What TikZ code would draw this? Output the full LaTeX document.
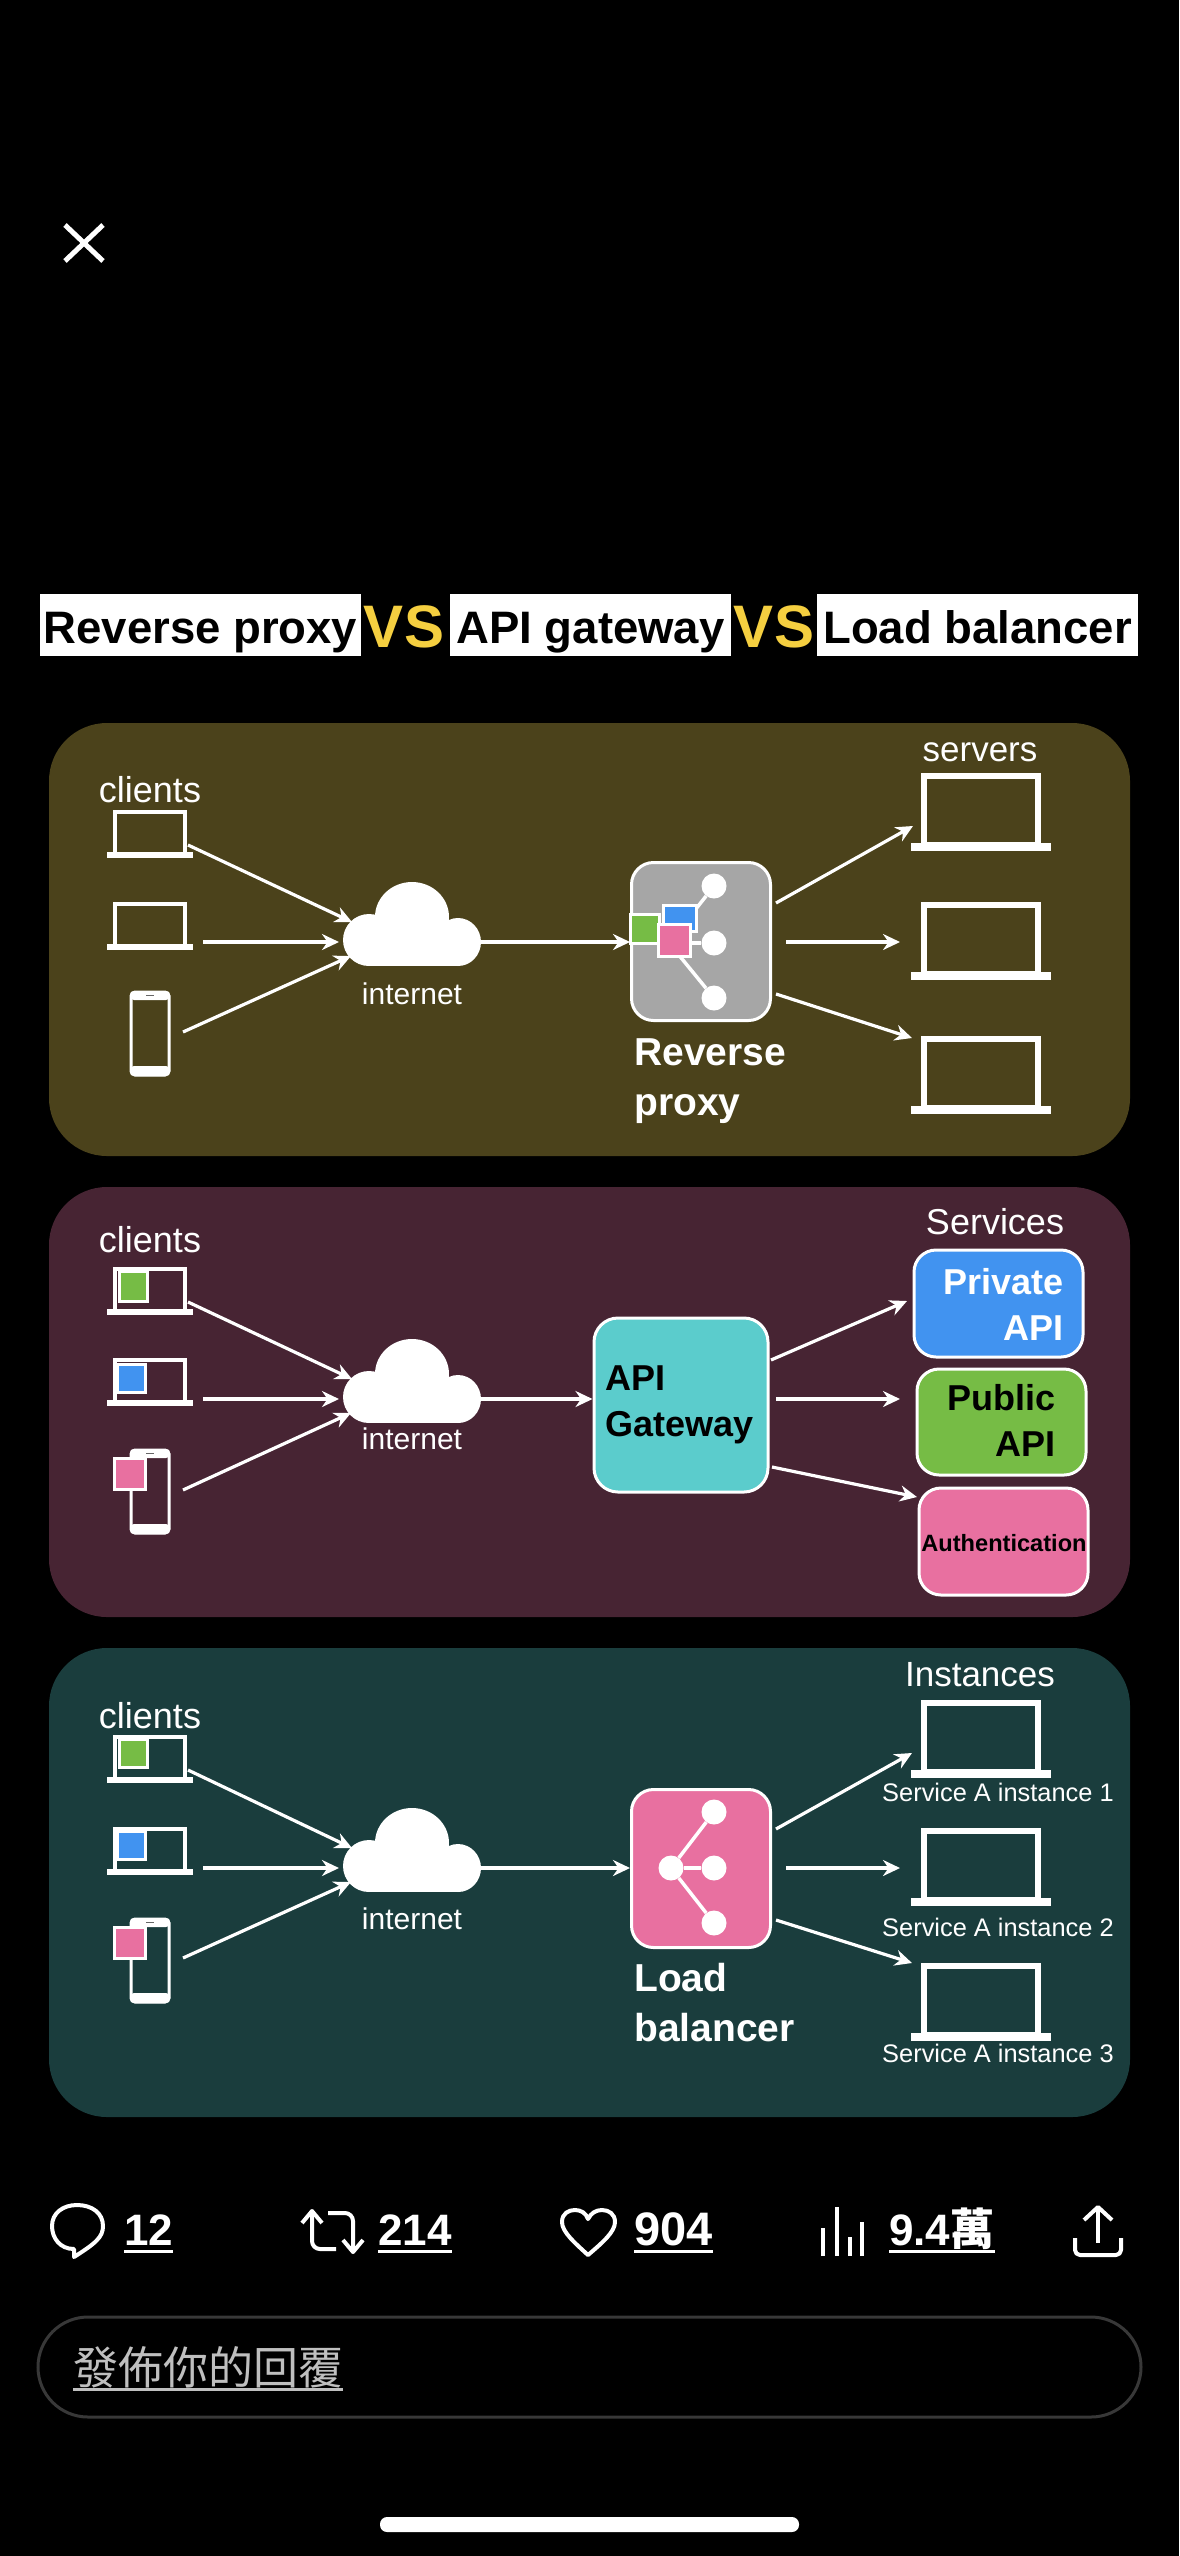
\documentclass[tikz,border=0pt]{standalone}
\usepackage{fontspec}
\setmainfont{Liberation Sans}
\newfontfamily\cjkfont{Noto Sans CJK TC}
\usetikzlibrary{arrows.meta,positioning,calc}

\definecolor{panelolive}{HTML}{4B421B}
\definecolor{panelplum}{HTML}{472433}
\definecolor{panelteal}{HTML}{1A3D3D}
\definecolor{appgreen}{HTML}{76BC45}
\definecolor{appblue}{HTML}{4193F0}
\definecolor{apppink}{HTML}{E870A0}
\definecolor{appcyan}{HTML}{5BCCCC}
\definecolor{proxygray}{HTML}{A6A6A6}
\definecolor{vsyellow}{HTML}{F5CF40}

\begin{document}
\begin{tikzpicture}[
    x=1pt, y=-1pt,
    panel/.style={rectangle, rounded corners=58pt, minimum width=1081pt, inner sep=0pt},
    titlebox/.style={rectangle, fill=white, inner sep=0pt, minimum height=62pt, text=black,
        text height=40pt, text depth=4pt, font=\bfseries\fontsize{45.5}{50}\selectfont},
    vslabel/.style={text=vsyellow, inner sep=0pt, font=\bfseries\fontsize{60}{62}\selectfont},
    plain/.style={text=white, inner sep=0pt, font=\fontsize{#1}{#1}\selectfont},
    heading/.style={text=white, inner sep=0pt, align=left, font=\bfseries\fontsize{39}{50}\selectfont},
    box/.style={rectangle, draw=white, line width=3pt, rounded corners=22pt, inner sep=0pt},
    apptext/.style={inner sep=0pt, align=right, font=\bfseries\fontsize{36}{46}\selectfont},
    inset/.style={rectangle, draw=white, line width=3pt, inner sep=0pt},
    leaf/.style={circle, fill=white, minimum size=25pt, inner sep=0pt},
    treeline/.style={draw=white, line width=3.5pt},
    arrow/.style={-{Stealth[length=17pt,width=16pt]}, white, line width=3.2pt},
    icon/.style={draw=white, line width=4pt, line join=round},
    count/.style={text=white, anchor=base west, inner sep=0pt, font=\bfseries\fontsize{44}{46}\selectfont},
    ulbar/.style={draw=white, line width=3pt},
    clientlaptop/.pic={
        \draw[white, line width=4pt] (-35,2) rectangle (35,44);
        \fill[white] (-43,42) rectangle (43,48);
    },
    serverlaptop/.pic={
        \draw[white, line width=6pt] (-57,3) rectangle (57,72);
        \fill[white] (-70,70) rectangle (70,78);
    },
    phone/.pic={
        \fill[white, rounded corners=4pt] (-20,0) rectangle (20,9);
        \fill[white, rounded corners=4pt] (-20,75) rectangle (20,85);
        \draw[white, line width=3pt, rounded corners=4pt] (-19,1) rectangle (19,84);
        \draw[black!60, line width=1.5pt] (-4,4.5) -- (4,4.5);
    },
    cloud/.pic={
        \fill[white] (69,35) ellipse [x radius=37, y radius=35];
        \fill[white] (26,58) ellipse [x radius=26, y radius=26];
        \fill[white] (115,60) ellipse [x radius=23, y radius=24];
        \fill[white] (26,45) rectangle (115,84);
        \coordinate (-ina) at (9,40);
        \coordinate (-inb) at (-4,60);
        \coordinate (-inc) at (8,74);
        \coordinate (-out) at (138,60);
    }
]

\useasboundingbox (0,0) rectangle (1179,2556);
\fill[black] (0,0) rectangle (1179,2556);

% Close button
\draw[icon, line width=5pt] (65,225) -- (103,261);
\draw[icon, line width=5pt] (103,225) -- (65,261);

% Title
\node[titlebox, minimum width=321pt] (titleA) at (200.5,625) {Reverse proxy};
\node[vslabel] (vsA) at (404,627) {VS};
\node[titlebox, minimum width=281pt] (titleB) at (590.5,625) {API gateway};
\node[vslabel] (vsB) at (774,627) {VS};
\node[titlebox, minimum width=321pt] (titleC) at (977.5,625) {Load balancer};

% Panels
\node[panel, fill=panelolive, minimum height=433pt] (panelA) at (589.5,939.5) {};
\node[panel, fill=panelplum, minimum height=430pt] (panelB) at (589.5,1402) {};
\node[panel, fill=panelteal, minimum height=469pt] (panelC) at (589.5,1882.5) {};

% Reverse proxy: clients
\node[plain=36] (clientsA) at (150,790) {clients};
\pic (caa) at (150,810) {clientlaptop};
\pic (cab) at (150,902) {clientlaptop};
\pic (cac) at (150,991) {phone};
\coordinate (caaOut) at (188,845);
\coordinate (cabOut) at (203,942);
\coordinate (cacOut) at (183,1032);

% Reverse proxy: internet
\pic (cloudA) at (343,882) {cloud};
\node[plain=30] (netA) at (412,994) {internet};

% Reverse proxy: proxy box
\node[box, fill=proxygray, minimum width=139pt, minimum height=158pt] (proxy) at (701,941.5) {};
\node[leaf] (proxyRoot) at (669,943) {};
\node[leaf] (proxyTop) at (714,886) {};
\node[leaf] (proxyMid) at (714,943) {};
\node[leaf] (proxyLow) at (714,998) {};
\draw[treeline] (proxyRoot) -- (proxyTop);
\draw[treeline] (proxyRoot) -- (proxyMid);
\draw[treeline] (proxyRoot) -- (proxyLow);
\node[inset, fill=appgreen, minimum width=29pt, minimum height=29pt] (proxyGreen) at (645,929) {};
\node[inset, fill=appblue, minimum width=33pt, minimum height=26pt] (proxyBlue) at (680,918) {};
\node[inset, fill=apppink, minimum width=32pt, minimum height=32pt] (proxyPink) at (674,940) {};
\node[heading, anchor=west] (proxyName) at (634,1081) {Reverse\\proxy};

% Reverse proxy: servers
\node[plain=35] (serversA) at (980,752) {servers};
\pic (saa) at (981,773) {serverlaptop};
\pic (sab) at (981,902) {serverlaptop};
\pic (sac) at (981,1036) {serverlaptop};
\coordinate (proxyOutA) at (776,903);
\coordinate (proxyOutB) at (786,942);
\coordinate (proxyOutC) at (776,994);
\coordinate (saaIn) at (913,826);
\coordinate (sabIn) at (900,942);
\coordinate (sacIn) at (912,1038);

% Reverse proxy: arrows
\draw[arrow] (caaOut) -- (cloudA-ina);
\draw[arrow] (cabOut) -- (cloudA-inb);
\draw[arrow] (cacOut) -- (cloudA-inc);
\draw[arrow] (cloudA-out) -- (proxy.west |- cloudA-out);
\draw[arrow] (proxyOutA) -- (saaIn);
\draw[arrow] (proxyOutB) -- (sabIn);
\draw[arrow] (proxyOutC) -- (sacIn);

% API gateway: clients
\node[plain=36] (clientsB) at (150,1240) {clients};
\pic (cba) at (150,1267) {clientlaptop};
\pic (cbb) at (150,1358) {clientlaptop};
\pic (cbc) at (150,1449) {phone};
\node[inset, fill=appgreen, minimum width=28pt, minimum height=30pt] (cbaApp) at (133,1286) {};
\node[inset, fill=appblue, minimum width=28pt, minimum height=28pt] (cbbApp) at (131,1378) {};
\node[inset, fill=apppink, minimum width=31pt, minimum height=31pt] (cbcApp) at (130,1474) {};
\coordinate (cbaOut) at (188,1302);
\coordinate (cbbOut) at (203,1399);
\coordinate (cbcOut) at (183,1490);

% API gateway: internet
\pic (cloudB) at (343,1339) {cloud};
\node[plain=30] (netB) at (412,1439) {internet};

% API gateway: gateway box
\node[box, fill=appcyan, minimum width=174pt, minimum height=174pt,
    rounded corners=24pt] (gateway) at (681,1405) {};
\node[apptext, align=left, anchor=west, text=black] (gatewayName) at (605,1405) {API\\Gateway};

% API gateway: services
\node[plain=36] (services) at (995,1222) {Services};
\node[box, fill=appblue, minimum width=169pt, minimum height=107pt] (privateApi) at (998.5,1303.5) {};
\node[apptext, text=white, anchor=east] (privateText) at (1064,1304) {Private\\API};
\node[box, fill=appgreen, minimum width=169pt, minimum height=106pt] (publicApi) at (1001.5,1422) {};
\node[apptext, text=black, anchor=east] (publicText) at (1056,1420) {Public\\API};
\node[box, fill=apppink, minimum width=169pt, minimum height=107pt] (authBox) at (1003.5,1541.5) {};
\node[inner sep=0pt, text=black, font=\bfseries\fontsize{23.6}{25}\selectfont] (authText) at (1004,1543) {Authentication};
\coordinate (gatewayOutA) at (771,1360);
\coordinate (gatewayOutB) at (776,1399);
\coordinate (gatewayOutC) at (772,1467);
\coordinate (privateIn) at (907,1301);
\coordinate (publicIn) at (900,1399);
\coordinate (authIn) at (917,1497);

% API gateway: arrows
\draw[arrow] (cbaOut) -- (cloudB-ina);
\draw[arrow] (cbbOut) -- (cloudB-inb);
\draw[arrow] (cbcOut) -- (cloudB-inc);
\draw[arrow] (cloudB-out) -- (gateway.west |- cloudB-out);
\draw[arrow] (gatewayOutA) -- (privateIn);
\draw[arrow] (gatewayOutB) -- (publicIn);
\draw[arrow] (gatewayOutC) -- (authIn);

% Load balancer: clients
\node[plain=36] (clientsC) at (150,1716) {clients};
\pic (cca) at (150,1735) {clientlaptop};
\pic (ccb) at (150,1827) {clientlaptop};
\pic (ccc) at (150,1918) {phone};
\node[inset, fill=appgreen, minimum width=28pt, minimum height=28pt] (ccaApp) at (133,1753) {};
\node[inset, fill=appblue, minimum width=28pt, minimum height=28pt] (ccbApp) at (131,1845) {};
\node[inset, fill=apppink, minimum width=31pt, minimum height=31pt] (cccApp) at (130,1943) {};
\coordinate (ccaOut) at (188,1770);
\coordinate (ccbOut) at (203,1868);
\coordinate (cccOut) at (183,1958);

% Load balancer: internet
\pic (cloudC) at (343,1808) {cloud};
\node[plain=30] (netC) at (412,1919) {internet};

% Load balancer: balancer box
\node[box, fill=apppink, minimum width=139pt, minimum height=158pt] (balancer) at (701,1868.5) {};
\node[leaf] (lbRoot) at (671,1868) {};
\node[leaf] (lbTop) at (714,1812) {};
\node[leaf] (lbMid) at (714,1868) {};
\node[leaf] (lbLow) at (714,1923) {};
\draw[treeline] (lbRoot) -- (lbTop);
\draw[treeline] (lbRoot) -- (lbMid);
\draw[treeline] (lbRoot) -- (lbLow);
\node[heading, anchor=west] (lbName) at (634,2003) {Load\\balancer};

% Load balancer: instances
\node[plain=35] (instances) at (980,1675) {Instances};
\pic (sca) at (981,1700) {serverlaptop};
\pic (scb) at (981,1828) {serverlaptop};
\pic (scc) at (981,1963) {serverlaptop};
\node[plain=25.4] (instanceA) at (998,1792) {Service A instance 1};
\node[plain=25.4] (instanceB) at (998,1927) {Service A instance 2};
\node[plain=25.4] (instanceC) at (998,2053) {Service A instance 3};
\coordinate (lbOutA) at (776,1829);
\coordinate (lbOutB) at (786,1868);
\coordinate (lbOutC) at (776,1920);
\coordinate (scaIn) at (912,1753);
\coordinate (scbIn) at (900,1868);
\coordinate (sccIn) at (912,1963);

% Load balancer: arrows
\draw[arrow] (ccaOut) -- (cloudC-ina);
\draw[arrow] (ccbOut) -- (cloudC-inb);
\draw[arrow] (cccOut) -- (cloudC-inc);
\draw[arrow] (cloudC-out) -- (balancer.west |- cloudC-out);
\draw[arrow] (lbOutA) -- (scaIn);
\draw[arrow] (lbOutB) -- (scbIn);
\draw[arrow] (lbOutC) -- (sccIn);

% Action bar icons
\draw[icon] (74,2249) .. controls (60,2249) and (52,2238) .. (52,2226) .. controls (52,2213) and (63,2205) .. (77,2205)
    .. controls (92,2205) and (103,2213) .. (103,2226) .. controls (103,2237) and (96,2243) .. (74,2257) -- cycle;
\draw[icon] (302,2223) -- (312,2211) -- (322,2223);
\draw[icon, rounded corners=8pt] (312,2211) -- (312,2249) -- (336,2249);
\draw[icon] (343,2240) -- (353,2252) -- (363,2240);
\draw[icon, rounded corners=8pt] (353,2252) -- (353,2213) -- (328,2213);
\draw[icon] (588,2255) .. controls (575,2243) and (562,2232) .. (562,2222) .. controls (562,2213) and (569,2210) .. (575,2210)
    .. controls (581,2210) and (586,2213) .. (588,2219) .. controls (591,2213) and (596,2210) .. (602,2210)
    .. controls (609,2210) and (615,2214) .. (615,2222) .. controls (615,2232) and (602,2243) .. (588,2255) -- cycle;
\draw[icon] (823,2256) -- (823,2228);
\draw[icon] (837,2256) -- (837,2207);
\draw[icon] (850,2256) -- (850,2237);
\draw[icon] (862,2256) -- (862,2222);
\draw[icon] (1084,2220) -- (1098,2207) -- (1112,2220);
\draw[icon] (1098,2207) -- (1098,2243);
\draw[icon, rounded corners=5pt] (1075,2238) -- (1075,2255) -- (1121,2255) -- (1121,2238);

% Action bar counts
\node[count] (replies) at (124,2245) {12};
\node[count] (reposts) at (378,2245) {214};
\node[count, font=\bfseries\fontsize{47}{50}\selectfont] (likes) at (634,2245) {904};
\node[count] (views) at (889,2245) {9.4{\cjkfont 萬}};
\draw[ulbar] ([yshift=-6pt]replies.base west) -- ([yshift=-6pt]replies.base east);
\draw[ulbar] ([yshift=-6pt]reposts.base west) -- ([yshift=-6pt]reposts.base east);
\draw[ulbar] ([yshift=-6pt]likes.base west) -- ([yshift=-6pt]likes.base east);
\draw[ulbar] ([yshift=-6pt]views.base west) -- ([yshift=-6pt]views.base east);

% Reply field
\node[rectangle, draw=white!22!black, line width=3pt, rounded corners=50pt, inner sep=0pt,
    minimum width=1103pt, minimum height=100pt] (replyBox) at (589.5,2367) {};
\node[anchor=base west, inner sep=0pt, text=white!75!black, font=\cjkfont\fontsize{45}{48}\selectfont]
    (replyText) at (73,2384) {發佈你的回覆};
\draw[draw=white!75!black, line width=3pt] ([yshift=-5pt]replyText.base west) -- ([yshift=-5pt]replyText.base east);

% Home indicator
\node[rectangle, fill=white, rounded corners=7pt, inner sep=0pt,
    minimum width=419pt, minimum height=15pt] (homeBar) at (589.5,2524.5) {};

\end{tikzpicture}
\end{document}
